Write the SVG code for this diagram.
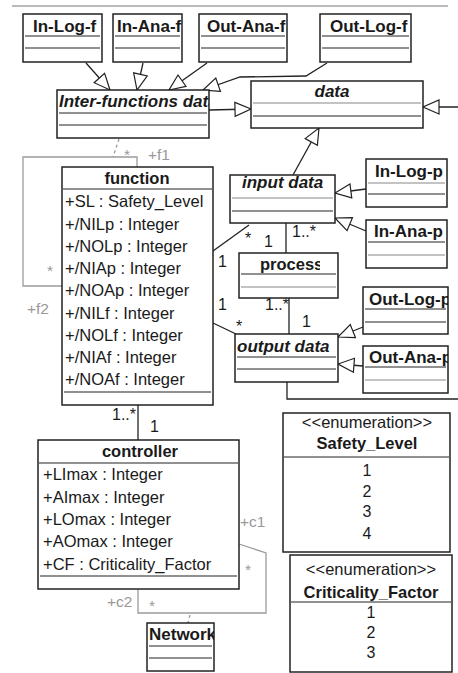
<svg xmlns="http://www.w3.org/2000/svg" width="458" height="673" viewBox="0 0 458 673">
<style>
.box{fill:#fff;stroke:#222;stroke-width:1.5}
.sep{stroke:#222;stroke-width:1.2}
.sepg{stroke:#888;stroke-width:1.2}
.t{font-family:"Liberation Sans",Arial,sans-serif;fill:#1a1a1a}
.ti{font-size:17px;font-weight:bold}
.tii{font-size:17px;font-weight:bold;font-style:italic}
.tc{font-size:16.5px;font-weight:bold}
.at{font-size:16.5px}
.en{font-size:16.5px}
.ev{font-size:16px}
.m{font-size:16px}
.g{font-family:"Liberation Sans",Arial,sans-serif;fill:#999;font-size:15.5px}
.ln{fill:none;stroke:#222;stroke-width:1.3}
.lg{fill:none;stroke:#9a9a9a;stroke-width:1.3}
.gen{fill:none;stroke:#222;stroke-width:1.3;marker-end:url(#tri)}
</style>
<defs>
<marker id="tri" markerUnits="userSpaceOnUse" markerWidth="20" markerHeight="18" refX="17" refY="8" orient="auto" viewBox="0 0 20 18">
<path d="M1,1 L17,8 L1,15 z" fill="#fff" stroke="#222" stroke-width="1.2"/>
</marker>
<clipPath id="c1"><rect x="23" y="14" width="79" height="48"/></clipPath>
<clipPath id="c2"><rect x="113" y="14" width="69" height="48"/></clipPath>
<clipPath id="c3"><rect x="199" y="14" width="88" height="48"/></clipPath>
<clipPath id="c4"><rect x="320" y="14" width="91" height="48"/></clipPath>
<clipPath id="c5"><rect x="57" y="90" width="152" height="48"/></clipPath>
<clipPath id="c6"><rect x="239" y="253" width="81" height="45"/></clipPath>
<clipPath id="c7"><rect x="363" y="287" width="85" height="47"/></clipPath>
<clipPath id="c8"><rect x="363" y="346" width="85" height="47"/></clipPath>
<clipPath id="c9"><rect x="147" y="623" width="67" height="48"/></clipPath>
</defs>

<line x1="12" y1="6" x2="448" y2="6" stroke="#777" stroke-width="1.2"/>

<g id="connectors">
<polyline class="gen" points="86,63 110,90"/>
<polyline class="gen" points="143,63 137,90"/>
<polyline class="gen" points="207,63 169,90"/>
<polyline class="gen" points="327,63 306,76 240,77 203,90"/>
<polyline class="gen" points="209,110 251,109"/>
<polyline class="gen" points="458,107 423,107"/>
<polyline class="gen" points="293,175 319,128"/>
<polyline class="gen" points="366,189 335,193"/>
<polyline class="gen" points="366,231 335,218"/>
<polyline class="gen" points="363,327 338,337"/>
<polyline class="gen" points="363,366 338,364"/>
<polyline class="ln" points="213,251 249,225"/>
<polyline class="ln" points="286,223 286,253"/>
<polyline class="ln" points="213,323 236,334"/>
<polyline class="ln" points="289,298 289,334"/>
<polyline class="ln" points="287,382 287,399 458,399"/>
<polyline class="ln" points="138,405 138,440"/>
<polyline class="lg" points="62,286 23,286 23,157 137,157 137,167"/>
<line class="lg" x1="119" y1="139" x2="113" y2="157" stroke-dasharray="3,3"/>
<polyline class="lg" points="239,544 266,553 266,613 138,613 138,589"/>
<line class="lg" x1="190" y1="615" x2="188" y2="623" stroke-dasharray="3,3"/>
<text class="g" x="124" y="160">*</text>
<text class="g" x="148" y="160">+f1</text>
<text class="g" x="47" y="276">*</text>
<text class="g" x="27" y="314">+f2</text>
<text class="t m" x="245" y="244">*</text>
<text class="t m" x="264" y="247">1</text>
<text class="t m" x="292" y="237">1..*</text>
<text class="t m" x="218" y="267">1</text>
<text class="t m" x="218" y="310">1</text>
<text class="t m" x="236" y="332">*</text>
<text class="t m" x="265" y="310">1..*</text>
<text class="t m" x="302" y="327">1</text>
<text class="t m" x="112" y="420">1..*</text>
<text class="t m" x="150" y="432">1</text>
<text class="g" x="240" y="527">+c1</text>
<text class="g" x="245" y="575">*</text>
<text class="g" x="107" y="607">+c2</text>
<text class="g" x="149" y="611">*</text>
</g>

<g id="In-Log-f">
<rect class="box" x="23" y="14" width="79" height="48"/>
<line class="sep" x1="25" y1="36" x2="100" y2="36"/>
<line class="sep" x1="25" y1="48" x2="100" y2="48"/>
<text class="t ti" x="33" y="32" clip-path="url(#c1)">In-Log-f</text>
</g>
<g id="In-Ana-f">
<rect class="box" x="113" y="14" width="69" height="48"/>
<line class="sep" x1="115" y1="36" x2="180" y2="36"/>
<line class="sep" x1="115" y1="48" x2="180" y2="48"/>
<text class="t ti" x="117" y="32" clip-path="url(#c2)">In-Ana-f</text>
</g>
<g id="Out-Ana-f">
<rect class="box" x="199" y="14" width="88" height="48"/>
<line class="sep" x1="201" y1="36" x2="285" y2="36"/>
<line class="sep" x1="201" y1="48" x2="285" y2="48"/>
<text class="t ti" x="207" y="32" clip-path="url(#c3)">Out-Ana-f</text>
</g>
<g id="Out-Log-f">
<rect class="box" x="320" y="14" width="91" height="48"/>
<line class="sep" x1="322" y1="36" x2="409" y2="36"/>
<line class="sep" x1="322" y1="48" x2="409" y2="48"/>
<text class="t ti" x="330" y="32" clip-path="url(#c4)">Out-Log-f</text>
</g>
<g id="Inter-functions-data">
<rect class="box" x="57" y="90" width="152" height="48"/>
<line class="sep" x1="59" y1="113" x2="207" y2="113"/>
<line class="sep" x1="59" y1="125" x2="207" y2="125"/>
<text class="t tii" x="59" y="107" clip-path="url(#c5)">Inter-functions data</text>
</g>
<g id="data">
<rect class="box" x="251" y="81" width="172" height="47"/>
<line class="sepg" x1="253" y1="103" x2="421" y2="103"/>
<line class="sep" x1="253" y1="116" x2="421" y2="116"/>
<text class="t tii" x="332" y="97" text-anchor="middle">data</text>
</g>
<g id="input-data">
<rect class="box" x="230" y="175" width="105" height="48"/>
<line class="sepg" x1="232" y1="198" x2="333" y2="198"/>
<line class="sep" x1="232" y1="211" x2="333" y2="211"/>
<text class="t tii" x="242" y="188">input data</text>
</g>
<g id="In-Log-p">
<rect class="box" x="366" y="159" width="81" height="48"/>
<line class="sepg" x1="368" y1="183" x2="445" y2="183"/>
<line class="sep" x1="368" y1="194" x2="445" y2="194"/>
<text class="t ti" x="375" y="177">In-Log-p</text>
</g>
<g id="In-Ana-p">
<rect class="box" x="366" y="220" width="81" height="48"/>
<line class="sep" x1="368" y1="242" x2="445" y2="242"/>
<line class="sepg" x1="368" y1="255" x2="445" y2="255"/>
<text class="t ti" x="374" y="237">In-Ana-p</text>
</g>
<g id="process">
<rect class="box" x="239" y="253" width="99" height="45"/>
<line class="sep" x1="241" y1="274" x2="336" y2="274"/>
<line class="sepg" x1="241" y1="287" x2="336" y2="287"/>
<text class="t tc" x="260" y="270" clip-path="url(#c6)">process</text>
</g>
<g id="output-data">
<rect class="box" x="235" y="334" width="103" height="48"/>
<line class="sep" x1="237" y1="357" x2="336" y2="357"/>
<line class="sep" x1="237" y1="369" x2="336" y2="369"/>
<text class="t tii" x="237" y="352">output data</text>
</g>
<g id="Out-Log-p">
<rect class="box" x="363" y="287" width="85" height="47"/>
<line class="sep" x1="365" y1="309" x2="446" y2="309"/>
<line class="sep" x1="365" y1="322" x2="446" y2="322"/>
<text class="t ti" x="369" y="305" clip-path="url(#c7)">Out-Log-p</text>
</g>
<g id="Out-Ana-p">
<rect class="box" x="363" y="346" width="85" height="47"/>
<line class="sep" x1="365" y1="367" x2="446" y2="367"/>
<line class="sepg" x1="365" y1="380" x2="446" y2="380"/>
<text class="t ti" x="369" y="363" clip-path="url(#c8)">Out-Ana-p</text>
</g>
<g id="function">
<rect class="box" x="62" y="167" width="151" height="238"/>
<line class="sep" x1="63" y1="189" x2="212" y2="189"/>
<line class="sep" x1="64" y1="392" x2="211" y2="392"/>
<text class="t tc" x="137" y="184" text-anchor="middle">function</text>
<text class="t at" x="65" y="207">+SL : Safety_Level</text>
<text class="t at" x="65" y="230">+/NILp : Integer</text>
<text class="t at" x="65" y="252">+/NOLp : Integer</text>
<text class="t at" x="65" y="274">+/NIAp : Integer</text>
<text class="t at" x="65" y="296">+/NOAp : Integer</text>
<text class="t at" x="65" y="319">+/NILf : Integer</text>
<text class="t at" x="65" y="341">+/NOLf : Integer</text>
<text class="t at" x="65" y="363">+/NIAf : Integer</text>
<text class="t at" x="65" y="385">+/NOAf : Integer</text>
</g>
<g id="controller">
<rect class="box" x="38" y="440" width="201" height="149"/>
<line class="sep" x1="39" y1="463" x2="238" y2="463"/>
<line class="sep" x1="40" y1="576" x2="237" y2="576"/>
<text class="t tc" x="140" y="457" text-anchor="middle">controller</text>
<text class="t at" x="43" y="480">+LImax : Integer</text>
<text class="t at" x="43" y="503">+AImax : Integer</text>
<text class="t at" x="43" y="525">+LOmax : Integer</text>
<text class="t at" x="43" y="547">+AOmax : Integer</text>
<text class="t at" x="43" y="570">+CF : Criticality_Factor</text>
</g>
<g id="Network">
<rect class="box" x="147" y="623" width="67" height="48"/>
<line class="sep" x1="149" y1="646" x2="212" y2="646"/>
<line class="sep" x1="149" y1="658" x2="212" y2="658"/>
<text class="t ti" x="149" y="640" clip-path="url(#c9)">Network</text>
</g>
<g id="Safety_Level">
<rect class="box" x="283" y="413" width="167" height="139"/>
<line class="sep" x1="284" y1="457" x2="449" y2="457"/>
<text class="t en" x="367" y="428" text-anchor="middle">&lt;&lt;enumeration&gt;&gt;</text>
<text class="t tc" x="367" y="449" text-anchor="middle">Safety_Level</text>
<text class="t ev" x="367" y="476" text-anchor="middle">1</text>
<text class="t ev" x="367" y="497" text-anchor="middle">2</text>
<text class="t ev" x="367" y="517" text-anchor="middle">3</text>
<text class="t ev" x="367" y="539" text-anchor="middle">4</text>
</g>
<g id="Criticality_Factor">
<rect class="box" x="290" y="555" width="162" height="117"/>
<line class="sep" x1="291" y1="602" x2="451" y2="602"/>
<text class="t en" x="371" y="575" text-anchor="middle">&lt;&lt;enumeration&gt;&gt;</text>
<text class="t tc" x="371" y="598" text-anchor="middle">Criticality_Factor</text>
<text class="t ev" x="371" y="618" text-anchor="middle">1</text>
<text class="t ev" x="371" y="638" text-anchor="middle">2</text>
<text class="t ev" x="371" y="658" text-anchor="middle">3</text>
</g>
</svg>
